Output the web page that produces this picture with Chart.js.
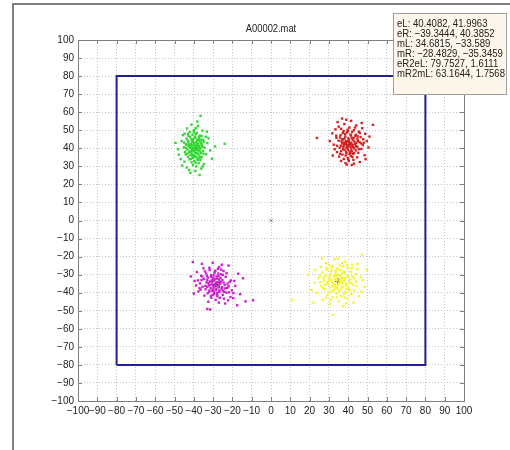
<!DOCTYPE html>
<html>
<head>
<meta charset="utf-8">
<script src="https://cdn.jsdelivr.net/npm/chart.js@4/dist/chart.umd.min.js"></script>
<style>
  body { margin: 0; background: #fff; }
  canvas { display: block; }
</style>
</head>
<body>
<canvas id="chart" width="510" height="450"></canvas>
<script>
const chartTitle = "A00002.mat";
const tickValues = [-100, -90, -80, -70, -60, -50, -40, -30, -20, -10, 0, 10, 20, 30, 40, 50, 60, 70, 80, 90, 100];
const boxCorners = [[-80, -80], [-80, 80], [80, 80], [80, -80], [-80, -80]];
const origin = [[0, 0]];
const centers = [[40.4082, 41.9963], [-39.3444, 40.3852], [34.6815, -33.589], [-28.4829, -35.3459]];
const infoLines = [
  "eL: 40.4082, 41.9963",
  "eR: \u221239.3444, 40.3852",
  "mL: 34.6815, \u221233.589",
  "mR: \u221228.4829, \u221235.3459",
  "eR2eL: 79.7527, 1.6111",
  "mR2mL: 63.1644, 1.7568"
];

// eR cluster (green)
const greenPts = [
  [-36.5,58.0],[-41.2,53.1],[-37.8,52.4],[-43.5,51.0],[-39.9,50.2],[-35.6,49.8],[-42.1,49.0],[-38.4,48.6],
  [-44.8,48.1],[-40.7,47.5],[-36.9,47.0],[-33.8,46.4],[-41.9,46.2],[-39.2,45.8],[-43.7,45.3],[-37.4,45.0],
  [-35.1,44.6],[-40.5,44.2],[-46.3,44.0],[-38.6,43.7],[-42.8,43.3],[-36.2,43.1],[-33.0,42.8],[-40.1,42.5],
  [-44.1,42.2],[-38.0,42.0],[-41.5,41.7],[-35.8,41.5],[-37.2,41.1],[-42.6,40.9],[-39.6,40.7],[-45.2,40.5],
  [-34.4,40.3],[-40.8,40.0],[-36.7,39.8],[-38.9,39.6],[-43.3,39.3],[-41.0,39.0],[-37.8,38.8],[-35.2,38.5],
  [-39.9,38.3],[-44.6,38.0],[-42.3,37.7],[-36.4,37.5],[-38.5,37.2],[-40.9,36.9],[-33.6,36.7],[-47.8,36.5],
  [-41.7,36.2],[-37.1,36.0],[-39.4,35.6],[-43.0,35.3],[-35.9,35.1],[-40.3,34.7],[-38.0,34.3],[-42.2,33.9],
  [-36.6,33.5],[-39.7,33.0],[-44.9,32.6],[-41.1,32.2],[-37.5,31.8],[-34.8,31.3],[-40.4,30.7],[-38.7,29.9],
  [-43.6,29.4],[-36.1,28.8],[-39.2,27.5],[-41.8,26.4],[-37.0,25.2],[-29.0,41.0],[-24.0,42.5],[-31.5,38.8],
  [-49.5,43.0],[-48.2,39.5],[-46.8,34.0],[-32.4,45.5],[-30.6,34.2],[-45.7,47.3],[-38.2,54.8],[-42.4,28.0],
  [-35.4,30.0],[-33.2,49.2],[-46.0,30.5],[-39.8,43.0],[-41.3,44.9],[-37.6,39.3],[-42.0,38.3],[-36.0,42.2],
  [-40.0,36.0],[-38.3,41.6],[-43.8,41.8],[-35.0,37.0],[-44.2,36.6],[-39.0,47.8],[-37.0,44.0],[-41.6,42.3],
  [-39.0,41.2],[-40.2,39.8],[-38.1,40.5],[-41.0,41.5],[-37.6,42.6],[-39.8,42.0],[-40.6,38.6],[-38.8,38.9],
  [-37.0,40.2],[-41.8,40.3],[-39.5,39.2],[-38.4,43.2],[-40.9,43.6],[-36.8,38.2],[-42.5,42.0],[-39.2,37.4],
  [-37.9,37.0],[-41.3,37.9],[-38.2,44.6],[-40.3,45.1],[-36.3,44.8],[-43.0,44.1],[-39.4,46.4],[-37.3,46.2],
  [-42.7,46.9],[-40.6,35.5],[-36.9,34.8],[-43.4,37.0],[-38.6,35.2],[-41.4,34.1],[-35.5,40.8],[-44.0,40.0],
  [-34.9,43.5],[-45.0,43.2],[-39.1,32.0],[-37.9,33.6],[-40.0,48.9],[-43.0,47.8],[-36.0,46.8],[-38.9,51.2]
];

// eL cluster (red)
const redPts = [
  [23.8,45.7],[36.8,56.5],[52.8,53.0],[41.5,55.2],[38.0,53.4],[44.2,52.7],[35.1,52.0],[40.6,51.5],
  [47.3,51.1],[33.4,50.5],[42.9,50.0],[37.6,49.6],[45.5,49.2],[39.3,48.8],[31.8,48.3],[48.8,48.0],
  [41.2,47.6],[36.0,47.3],[43.7,46.9],[38.5,46.5],[46.4,46.2],[33.9,45.8],[40.1,45.5],[44.8,45.2],
  [37.2,44.9],[42.3,44.6],[35.0,44.2],[49.6,44.0],[39.4,43.8],[45.9,43.4],[41.0,43.1],[36.9,42.8],
  [43.5,42.5],[38.3,42.3],[32.5,42.0],[47.6,41.8],[40.5,41.5],[44.1,41.2],[37.5,40.9],[42.6,40.6],
  [35.6,40.3],[39.6,40.0],[46.8,39.7],[41.6,39.4],[38.0,39.1],[43.9,38.8],[36.4,38.5],[40.8,38.2],
  [34.2,37.9],[45.2,37.5],[39.1,37.2],[42.4,36.9],[37.0,36.5],[48.5,36.2],[41.3,35.8],[35.3,35.4],
  [44.6,35.0],[39.8,34.6],[37.7,34.1],[42.7,33.6],[40.3,33.0],[46.0,32.4],[38.6,31.8],[41.9,30.8],
  [43.0,31.5],[36.3,33.0],[33.0,39.5],[50.5,40.5],[51.0,46.5],[30.5,44.0],[47.0,54.0],[34.5,54.5],
  [39.0,55.8],[44.0,47.5],[40.0,49.5],[38.8,44.0],[42.0,42.0],[37.9,43.2],[41.8,45.8],[43.2,39.9],
  [39.3,41.0],[36.2,41.5],[45.0,44.0],[38.7,36.0],[41.1,37.6],[44.7,40.8],[35.8,46.0],[47.8,45.0],
  [32.0,36.0],[49.0,34.0],
  [40.8,42.4],[39.6,41.7],[41.6,42.9],[38.9,42.9],[40.2,43.6],[42.5,41.6],[39.1,40.4],[41.3,40.8],
  [37.8,41.8],[43.2,43.8],[40.4,44.6],[38.1,45.4],[42.8,45.7],[39.9,39.2],[41.9,38.3],[37.4,39.7],
  [44.2,42.9],[36.5,43.8],[40.7,36.9],[38.9,38.0],[43.0,37.3],[36.8,44.9],[41.4,47.1],[38.4,47.8],
  [44.9,46.6],[39.7,50.3],[42.1,49.0],[35.8,37.0],[45.6,39.5],[46.6,42.7],[34.2,41.4],[37.2,48.5],
  [43.5,51.5],[40.0,34.0],[42.2,35.2],[39.3,31.0],[33.8,47.0],[46.0,48.5],[36.3,50.8],[48.0,43.0]
];

// mR cluster (magenta)
const magentaPts = [
  [-40.5,-23.0],[-30.2,-23.4],[-22.0,-25.0],[-35.0,-26.5],[-27.5,-26.8],[-31.8,-27.5],[-24.6,-28.0],[-38.4,-28.6],
  [-29.3,-29.0],[-33.6,-29.4],[-26.0,-29.8],[-31.0,-30.2],[-36.2,-30.6],[-28.2,-31.0],[-23.5,-31.2],[-32.7,-31.6],
  [-30.0,-32.0],[-34.8,-32.3],[-27.0,-32.6],[-25.2,-33.0],[-29.5,-33.3],[-39.6,-33.5],[-31.6,-33.8],[-21.4,-34.0],
  [-33.4,-34.3],[-28.0,-34.6],[-36.8,-34.8],[-26.3,-35.1],[-30.7,-35.4],[-24.0,-35.7],[-32.2,-36.0],[-18.5,-36.2],
  [-29.0,-36.4],[-35.5,-36.7],[-27.1,-37.0],[-22.7,-37.3],[-31.3,-37.5],[-25.6,-37.8],[-33.9,-38.1],[-28.6,-38.4],
  [-20.3,-38.7],[-30.4,-39.0],[-37.6,-39.3],[-26.8,-39.6],[-23.1,-40.0],[-32.8,-40.3],[-29.4,-40.7],[-16.0,-40.8],
  [-25.0,-41.2],[-34.5,-41.6],[-27.8,-42.0],[-21.0,-42.4],[-30.9,-42.8],[-24.4,-43.3],[-13.2,-44.8],[-9.3,-44.2],
  [-19.6,-43.0],[-33.0,-49.0],[-31.5,-49.3],[-17.5,-47.0],[-27.0,-45.5],[-41.5,-31.0],[-37.0,-37.5],[-40.0,-40.5],
  [-14.5,-32.0],[-17.0,-29.5],[-25.5,-24.5],[-35.8,-24.0],[-29.7,-30.5],[-27.4,-35.9],[-31.9,-38.8],[-26.2,-31.8],
  [-28.9,-27.8],[-33.0,-36.8],[-24.9,-38.9],[-30.5,-34.0],[-22.5,-35.0],[-34.2,-28.2],[-28.0,-40.1],[-26.6,-33.9],
  [-36.0,-33.0],[-19.0,-33.5],[-32.5,-45.0],[-23.8,-46.0],[-29.8,-37.2],[-27.3,-29.4],[-21.8,-39.8],[-38.8,-36.0],
  [-25.8,-27.2],[-31.2,-41.9],
  [-28.8,-35.0],[-27.6,-34.2],[-29.9,-36.1],[-27.0,-36.5],[-30.6,-33.0],[-26.1,-34.0],[-29.2,-32.5],[-31.8,-35.8],
  [-25.4,-36.9],[-28.3,-37.8],[-30.1,-38.3],[-26.7,-38.7],[-32.4,-34.6],[-24.6,-34.4],[-28.1,-32.2],[-33.0,-32.9],
  [-23.9,-37.6],[-29.6,-39.5],[-31.0,-31.2],[-27.3,-30.8],[-25.0,-30.1],[-34.0,-36.2],[-22.0,-36.4],[-27.9,-41.0],
  [-30.3,-41.2],[-24.2,-39.5],[-32.1,-39.6],[-26.5,-42.8],[-35.6,-31.0],[-20.8,-33.2],[-29.0,-28.1],[-33.2,-30.7],
  [-23.0,-29.2],[-36.5,-38.3],[-19.5,-40.2],[-28.7,-44.0],[-22.2,-44.2],[-31.9,-26.2],[-26.9,-25.8],[-37.9,-33.2]
];

// mL cluster (yellow)
const yellowPts = [
  [47.2,-19.0],[33.0,-21.5],[38.5,-22.8],[28.4,-23.6],[42.0,-24.5],[35.6,-24.9],[25.8,-25.6],[31.4,-26.0],
  [39.8,-26.4],[44.6,-26.9],[29.0,-27.3],[36.2,-27.6],[33.5,-28.0],[41.3,-28.4],[26.7,-28.8],[38.0,-29.1],
  [31.0,-29.5],[43.8,-29.8],[35.0,-30.1],[28.2,-30.5],[39.5,-30.8],[32.6,-31.1],[46.5,-31.4],[36.8,-31.7],
  [24.5,-32.0],[30.3,-32.3],[41.0,-32.6],[34.0,-32.9],[27.4,-33.2],[37.6,-33.5],[44.0,-33.8],[31.8,-34.1],
  [22.6,-34.4],[35.3,-34.7],[39.0,-35.0],[29.6,-35.3],[42.5,-35.6],[33.2,-35.9],[26.0,-36.2],[37.0,-36.5],
  [48.5,-36.8],[30.8,-37.1],[40.2,-37.4],[34.5,-37.7],[28.0,-38.0],[36.0,-38.4],[43.2,-38.8],[31.5,-39.2],
  [38.6,-39.6],[24.0,-40.0],[33.8,-40.4],[41.6,-40.8],[29.2,-41.3],[36.4,-41.8],[32.0,-42.5],[39.7,-43.2],
  [27.0,-44.0],[35.0,-44.8],[42.8,-45.5],[30.5,-46.3],[37.5,-47.5],[32.1,-52.3],[10.9,-44.0],[19.5,-30.0],
  [21.0,-38.5],[49.5,-27.5],[45.5,-42.0],[26.5,-21.0],[30.0,-24.8],[37.2,-25.5],[34.2,-26.6],[40.7,-34.3],
  [32.8,-30.3],[36.6,-29.4],[29.8,-33.6],[38.3,-31.9],[27.9,-35.8],[35.8,-33.0],[33.0,-37.6],[31.2,-27.9],
  [42.3,-30.9],[39.2,-37.9],[25.3,-30.6],[44.8,-24.0],[23.0,-27.5],[46.8,-39.5],[34.6,-21.0],[28.6,-42.8],
  [38.9,-45.9],[22.0,-45.5],[47.5,-33.0],
  [34.4,-33.2],[35.6,-34.3],[33.1,-32.6],[36.3,-32.4],[34.9,-35.6],[32.4,-34.9],[37.4,-34.8],[33.7,-31.0],
  [35.9,-30.9],[31.3,-33.0],[38.1,-33.0],[34.0,-36.8],[36.7,-37.0],[31.9,-36.3],[38.8,-36.2],[33.4,-29.4],
  [37.8,-28.3],[30.6,-30.9],[40.0,-31.0],[29.1,-34.6],[41.5,-34.6],[32.6,-38.6],[37.9,-40.6],[35.2,-39.3],
  [30.0,-39.8],[40.9,-38.6],[34.8,-27.0],[31.9,-25.4],[39.4,-24.7],[27.2,-31.6],[43.1,-32.0],[26.8,-37.5],
  [44.4,-36.4],[34.1,-42.6],[30.9,-43.9],[38.1,-42.7],[36.9,-23.6],[28.7,-26.2],[41.9,-26.3],[25.5,-34.1]
];

const fontFamily = "'Liberation Sans', Arial, sans-serif";
const toXY = (arr) => arr.map(p => ({ x: p[0], y: p[1] }));
const fmt = (v) => String(v).replace("-", "\u2212");

const cluster = (pts, color) => ({
    type: "scatter",
    data: toXY(pts),
    pointStyle: "rect",
    pointRadius: 1.7,
    pointBorderWidth: 0,
    backgroundColor: color,
    borderColor: color
});

// narrow text: the original uses a condensed face, so squeeze horizontally
function squeezedText(ctx, text, x, y, sx) {
    ctx.save();
    ctx.translate(x, y);
    ctx.scale(sx, 1);
    ctx.fillText(text, 0, 0);
    ctx.restore();
}

const decorPlugin = {
    id: "decor",
    beforeDraw(chart) {
        const ctx = chart.ctx;
        ctx.save();
        ctx.fillStyle = "#fff";
        ctx.fillRect(0, 0, chart.width, chart.height);
        ctx.restore();
    },
    afterDraw(chart) {
        const { ctx, chartArea: a, scales } = chart;
        const xs = scales.x, ys = scales.y;
        ctx.save();

        // axes box + inward ticks
        ctx.strokeStyle = "#7f7f7f";
        ctx.lineWidth = 1;
        ctx.strokeRect(Math.round(a.left) + 0.5, Math.round(a.top) + 0.5,
            Math.round(a.right - a.left), Math.round(a.bottom - a.top));
        ctx.beginPath();
        tickValues.forEach(v => {
            const px = Math.round(xs.getPixelForValue(v)) + 0.5;
            ctx.moveTo(px, a.bottom); ctx.lineTo(px, a.bottom - 4);
            ctx.moveTo(px, a.top); ctx.lineTo(px, a.top + 4);
            const py = Math.round(ys.getPixelForValue(v)) + 0.5;
            ctx.moveTo(a.left, py); ctx.lineTo(a.left + 4, py);
            ctx.moveTo(a.right, py); ctx.lineTo(a.right - 4, py);
        });
        ctx.stroke();

        // figure frame
        ctx.strokeStyle = "#808080";
        ctx.lineWidth = 2;
        ctx.beginPath();
        ctx.moveTo(13, chart.height);
        ctx.lineTo(13, 4);
        ctx.lineTo(chart.width, 4);
        ctx.stroke();

        // title
        ctx.fillStyle = "#222";
        ctx.font = "11px " + fontFamily;
        ctx.textAlign = "center";
        ctx.textBaseline = "middle";
        squeezedText(ctx, chartTitle, (a.left + a.right) / 2, 29, 0.85);

        // info box
        ctx.fillStyle = "#fdf6ea";
        ctx.fillRect(393, 13, 113, 81);
        ctx.strokeStyle = "#a0a0a0";
        ctx.lineWidth = 1;
        ctx.strokeRect(393.5, 13.5, 113, 81);
        ctx.fillStyle = "#222";
        ctx.font = "11px " + fontFamily;
        ctx.textAlign = "left";
        infoLines.forEach((t, i) => squeezedText(ctx, t, 397, 24 + i * 10, 0.87));

        ctx.restore();
    }
};

const axisOpts = {
    type: "linear",
    min: -100,
    max: 100,
    grid: { color: "#c4c4c4", lineWidth: 1, drawTicks: false },
    border: { display: false, dash: [1, 2] },
    ticks: {
        stepSize: 10,
        autoSkip: false,
        maxRotation: 0,
        padding: 4,
        color: "#222",
        font: { family: fontFamily, size: 10 },
        callback: (v) => fmt(v)
    }
};

new Chart(document.getElementById("chart").getContext("2d"), {
    type: "scatter",
    data: {
        datasets: [
            cluster(greenPts, "#33d633"),
            cluster(redPts, "#d42222"),
            cluster(magentaPts, "#cc22cc"),
            cluster(yellowPts, "#f6f630"),
            {
                type: "scatter",
                data: toXY(centers),
                pointStyle: "cross",
                pointRadius: 3,
                pointBorderWidth: 1,
                borderColor: "#111",
                backgroundColor: "#111"
            },
            {
                type: "scatter",
                data: toXY(origin),
                pointStyle: "crossRot",
                pointRadius: 2.5,
                pointBorderWidth: 1,
                borderColor: "#888",
                backgroundColor: "#888"
            },
            {
                type: "line",
                data: toXY(boxCorners),
                showLine: true,
                fill: false,
                borderColor: "#1f1f8f",
                borderWidth: 2,
                pointRadius: 0,
                tension: 0
            }
        ]
    },
    options: {
        responsive: false,
        animation: false,
        layout: { padding: { top: 40, right: 46, left: 0, bottom: 0 } },
        plugins: { legend: { display: false }, title: { display: false }, tooltip: { enabled: false } },
        scales: {
            x: { ...axisOpts, afterFit: (s) => { s.height = 49; } },
            y: { ...axisOpts, afterFit: (s) => { s.width = 78; } }
        }
    },
    plugins: [decorPlugin]
});
</script>
</body>
</html>
